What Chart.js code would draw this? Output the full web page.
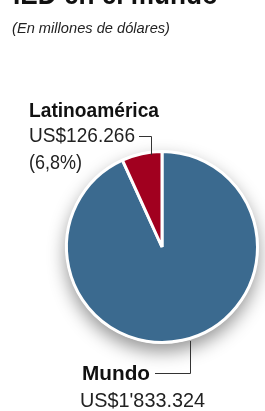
<!DOCTYPE html>
<html lang="es">
<head>
    <meta charset="UTF-8">
    <title>IED en el mundo</title>
    <script src="https://cdn.jsdelivr.net/npm/chart.js"></script>
    <style>
        body { margin:0; background:#fff; }
        .box { width:265px; height:411px; position:relative; }
    </style>
</head>
<body>
<div class="box">
    <canvas id="myChart" width="265" height="411"></canvas>
</div>
<script>
    // data
    const regiones = ['Mundo', 'Latinoamérica'];
    const participacion = [93.2, 6.8];
    const montos = ["US$1'833.324", 'US$126.266'];
    const porcentajes = ['', '(6,8%)'];
    const colores = ['#3b6a8f', '#a1001f'];

    const ctx = document.getElementById('myChart');

    // draw text squeezed to a given width (condensed look)
    function txt(c, s, x, y, font, w, color) {
        c.save();
        c.font = font;
        c.fillStyle = color || '#111';
        c.textBaseline = 'alphabetic';
        const m = c.measureText(s).width;
        const sx = w ? w / m : 1;
        c.translate(x, y);
        c.scale(sx, 1);
        c.fillText(s, 0, 0);
        c.restore();
    }

    const shadow = {
        id: 'shadow',
        beforeDatasetsDraw(chart) {
            const arc = chart.getDatasetMeta(0).data[0];
            const c = chart.ctx;
            c.save();
            c.shadowColor = 'rgba(0,0,0,0.42)';
            c.shadowBlur = 18;
            c.shadowOffsetY = 8;
            c.fillStyle = '#fff';
            c.beginPath();
            c.arc(arc.x, arc.y, arc.outerRadius + 1, 0, Math.PI * 2);
            c.fill();
            c.restore();
        }
    };

    const labels = {
        id: 'labels',
        afterDraw(chart) {
            const c = chart.ctx;
            const F = '"Liberation Sans", Arial, sans-serif';
            txt(c, 'IED en el mundo', 13, 4, 'bold 30px ' + F, 205);
            txt(c, '(En millones de dólares)', 12, 33, 'italic 15px ' + F, 158, '#222');

            txt(c, regiones[1], 29, 117, 'bold 20px ' + F, 130);
            txt(c, montos[1], 29, 142, '21px ' + F, 106, '#222');
            txt(c, porcentajes[1], 29, 169, '21px ' + F, 53, '#222');

            txt(c, regiones[0], 82, 380, 'bold 20px ' + F, 68);
            txt(c, montos[0], 80, 407, '21px ' + F, 125, '#222');

            c.save();
            c.strokeStyle = '#333';
            c.lineWidth = 1;
            c.beginPath();
            c.moveTo(139, 136.5); c.lineTo(151.5, 136.5); c.lineTo(151.5, 155);
            c.moveTo(155, 373.5); c.lineTo(190.5, 373.5); c.lineTo(190.5, 341);
            c.stroke();
            c.restore();
        }
    };

    new Chart(ctx, {
        type: 'pie',
        data: {
            labels: regiones,
            datasets: [{
                data: participacion,
                backgroundColor: colores,
                borderColor: '#fff',
                borderWidth: 3
            }]
        },
        options: {
            responsive: false,
            animation: false,
            events: [],
            layout: { padding: { top: 150, bottom: 67, left: 65, right: 6 } },
            plugins: {
                legend: { display: false },
                tooltip: { enabled: false }
            }
        },
        plugins: [shadow, labels]
    });
</script>
</body>
</html>
